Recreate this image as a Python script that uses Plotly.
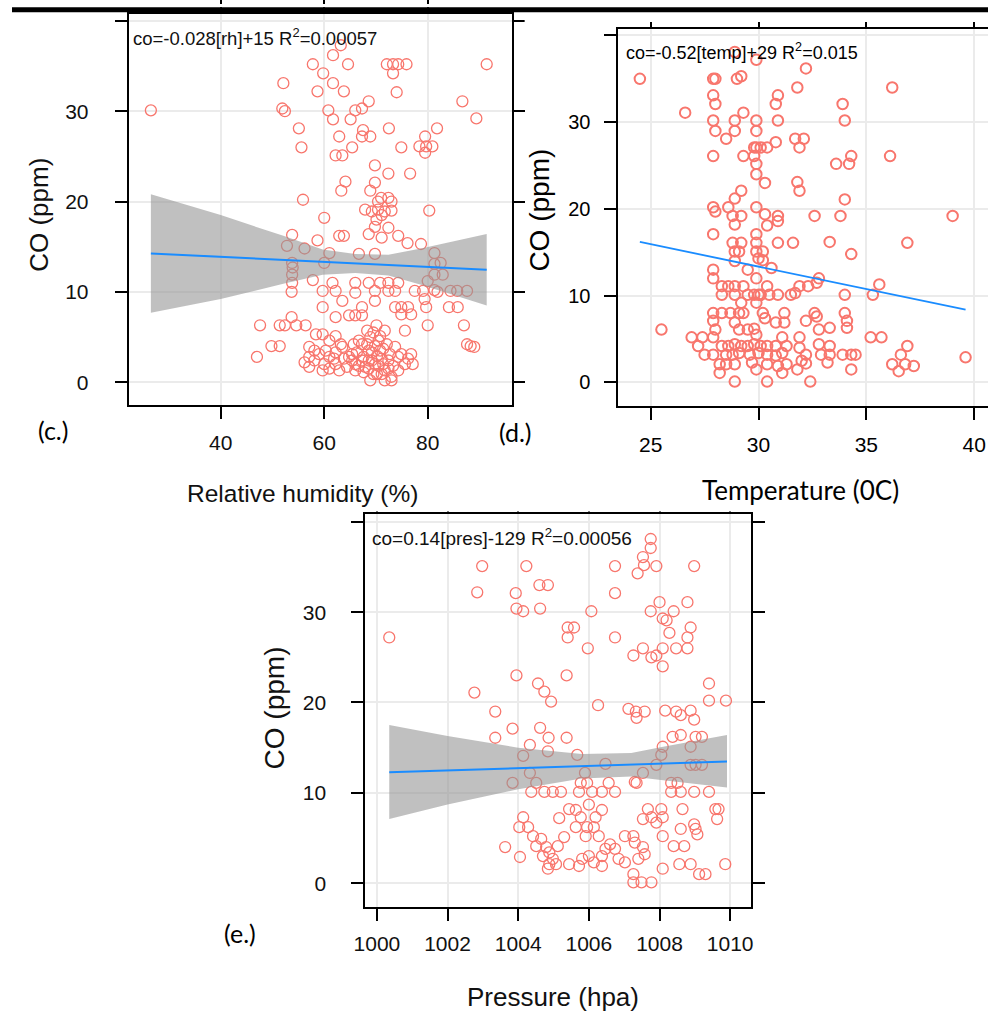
import plotly.graph_objects as go

# ---------------- panel (c): CO vs relative humidity ----------------
rh = [63.2, 61.7, 57.8, 64.6, 72.1, 73.3, 74.3, 75.9, 91.4, 73.3,
      59.8, 52.1, 61.7, 63.8, 58.7, 74.0, 86.7, 26.5, 51.9, 52.4,
      60.8, 68.6, 67.3, 66.0, 61.7, 65.1, 89.4, 55.1, 67.5, 67.3,
      68.9, 62.9, 72.5, 81.8, 79.5, 55.6, 65.4, 74.9, 78.4, 79.7,
      80.9, 79.5, 62.2, 63.5, 69.8, 72.4, 76.6, 64.1, 69.8, 63.3,
      68.9, 55.9, 71.0, 72.4, 70.4, 73.0, 67.9, 69.2, 70.4, 71.7,
      73.0, 71.1, 80.3, 60.0, 70.1, 72.4, 69.8, 62.9, 63.8, 53.8,
      52.8, 68.6, 71.1, 74.3, 76.1, 78.7, 58.7, 66.7, 69.8, 81.3,
      61.0, 56.2, 53.8, 53.9, 60.0, 82.5, 81.3, 53.8, 53.8, 57.8,
      61.6, 62.2, 66.0, 68.6, 70.8, 72.4, 74.3, 80.0, 81.3, 82.9,
      81.3, 77.5, 79.1, 59.7, 66.0, 69.8, 72.4, 73.7, 84.4, 85.7,
      87.6, 81.9, 53.7, 79.4, 59.7, 63.5, 67.3, 69.8, 73.7, 74.9,
      76.2, 74.9, 76.8, 84.1, 85.8, 79.7, 53.7, 52.4, 54.6, 56.4,
      51.4, 47.6, 62.2, 64.8, 66.0, 67.3, 70.1, 71.7, 75.6, 80.0,
      87.0, 58.4, 59.7, 62.2, 61.0, 49.8, 51.4, 47.0, 56.2, 57.1,
      58.1, 57.1, 87.6, 88.3, 89.0, 59.7, 60.0, 61.0, 62.2, 63.2,
      63.8, 64.4, 65.4, 66.0, 66.7, 67.3, 67.6, 67.9, 68.6, 68.9,
      69.2, 69.5, 69.8, 70.2, 70.5, 70.8, 71.1, 71.4, 71.7, 72.1,
      72.4, 72.7, 73.0, 73.3, 73.7, 74.3, 74.9, 75.6, 76.2, 76.8,
      77.1, 74.3, 66.0, 64.8, 63.5, 62.2, 61.0, 68.9, 71.7, 73.0,
      70.2, 68.6, 67.3, 66.3, 65.4, 62.9, 61.9, 60.3, 59.0, 58.1,
      57.1, 68.3, 69.5, 70.5, 68.3, 69.2, 70.8, 69.8, 71.4, 68.6,
      67.6, 71.1, 72.4, 66.7, 65.7]
co_rh = [37.3, 36.2, 35.2, 35.2, 35.2, 35.2, 35.2, 35.2, 35.2, 34.2,
         34.2, 33.1, 33.1, 32.2, 32.2, 32.1, 31.1, 30.1, 30.3, 30.0,
         30.1, 31.1, 30.3, 30.1, 29.1, 29.1, 29.2, 28.1, 27.9, 27.2,
         27.2, 27.2, 28.1, 28.1, 27.2, 26.0, 26.0, 26.0, 26.1, 26.1,
         26.1, 25.4, 25.1, 25.1, 24.0, 23.1, 23.1, 22.2, 22.1, 21.2,
         21.2, 20.2, 20.4, 20.4, 20.0, 20.0, 19.1, 18.9, 19.1, 18.9,
         19.0, 18.5, 19.0, 18.2, 18.0, 17.1, 17.2, 16.2, 16.2, 16.3,
         15.1, 16.4, 16.0, 16.2, 15.4, 15.3, 15.7, 14.2, 14.2, 14.3,
         14.3, 14.8, 13.2, 12.7, 13.2, 13.2, 13.1, 11.9, 11.0, 11.3,
         11.0, 10.1, 11.0, 11.0, 11.0, 11.0, 11.0, 11.2, 11.9, 11.9,
         10.2, 10.1, 10.1, 10.1, 9.9, 10.1, 10.1, 10.1, 10.1, 10.1,
         10.1, 10.0, 10.0, 9.2, 8.3, 9.0, 8.3, 9.0, 8.3, 8.3,
         8.3, 7.5, 7.5, 8.3, 8.3, 8.3, 7.2, 6.3, 6.3, 6.3,
         6.3, 6.3, 7.2, 7.4, 7.4, 7.4, 6.3, 5.7, 5.7, 6.3,
         6.3, 5.3, 5.3, 5.1, 4.6, 4.0, 4.0, 2.8, 2.2, 3.9,
         3.5, 2.8, 4.2, 4.0, 3.9, 1.3, 2.0, 2.8, 3.3, 4.2,
         2.6, 1.7, 3.1, 2.0, 4.6, 4.2, 2.8, 1.7, 3.5, 5.0,
         2.4, 0.9, 4.0, 2.9, 1.8, 5.1, 2.6, 3.7, 1.3, 4.2,
         2.4, 3.1, 0.6, 1.8, 3.9, 2.8, 3.1, 2.0, 2.6, 3.1,
         2.0, 1.3, 1.3, 2.8, 3.9, 2.0, 1.5, 0.2, 0.2, 0.2,
         0.9, 1.5, 2.4, 3.3, 2.4, 1.3, 2.6, 3.5, 3.1, 2.4,
         1.7, 5.7, 5.5, 4.6, 4.2, 3.3, 3.5, 2.0, 2.0, 2.4,
         1.1, 0.9, 1.5, 1.8, 4.2]
fit_rh = [26.5, 91.4]
fit_co_rh = [14.26, 12.44]
band_rh = [26.5, 40.0, 52.1, 59.7, 66.0, 72.4, 78.7, 91.4]
band_rh_upper = [20.8, 18.5, 16.2, 14.7, 14.2, 14.1, 14.8, 16.4]
band_rh_lower = [7.7, 9.2, 10.9, 11.9, 12.1, 11.8, 10.8, 8.5]

# ---------------- panel (d): CO vs temperature ----------------
temp = [24.5, 28.9, 29.9, 32.2, 27.9, 28.0, 29.0, 29.2, 31.8, 36.2,
        27.9, 28.0, 30.9, 30.8, 33.9, 26.6, 29.3, 27.9, 28.0, 28.9,
        28.9, 29.9, 29.9, 30.9, 34.0, 28.5, 30.8, 31.7, 32.1, 31.9,
        29.8, 30.1, 30.4, 29.9, 27.9, 29.3, 29.8, 34.3, 34.2, 33.6,
        36.1, 29.9, 29.9, 30.3, 31.8, 31.9, 29.2, 28.9, 34.0, 27.9,
        28.0, 28.6, 29.9, 28.8, 29.2, 28.9, 30.3, 30.9, 30.9, 30.4,
        32.6, 33.8, 39.0, 27.9, 29.9, 28.8, 29.2, 29.9, 29.9, 30.2,
        30.0, 30.2, 28.9, 29.1, 28.9, 30.9, 31.6, 33.3, 36.9, 34.3,
        29.5, 29.9, 30.6, 27.9, 27.9, 32.8, 35.6, 35.3, 28.3, 28.6,
        28.9, 29.3, 28.3, 28.9, 29.5, 29.8, 30.0, 30.1, 30.5, 30.9,
        30.4, 31.5, 31.7, 31.9, 32.3, 32.7, 34.0, 29.2, 29.9, 27.9,
        28.3, 28.7, 29.1, 29.3, 27.9, 28.0, 30.2, 30.3, 30.8, 31.2,
        31.2, 32.2, 32.6, 32.7, 34.0, 34.1, 34.1, 33.3, 32.8, 25.5,
        28.9, 29.1, 29.5, 29.8, 29.9, 26.9, 27.4, 27.9, 27.2, 27.5,
        27.9, 28.3, 28.6, 28.9, 29.2, 29.5, 29.8, 30.1, 30.4, 28.5,
        28.8, 29.1, 30.8, 31.3, 31.1, 31.9, 31.9, 32.2, 32.0, 32.2,
        32.8, 33.3, 33.3, 32.9, 33.2, 33.9, 34.3, 34.5, 35.2, 35.7,
        36.9, 36.6, 36.2, 36.8, 36.5, 37.2, 39.6, 29.6, 30.0, 30.4,
        30.8, 31.1, 28.2, 28.5, 28.9, 29.7, 29.9, 30.4, 30.9, 31.3,
        28.2, 28.9, 30.4, 31.1, 31.8, 32.4, 34.3]
co_temp = [35.0, 38.1, 37.2, 36.2, 35.0, 35.0, 35.0, 35.3, 34.0, 34.0,
           33.1, 32.1, 33.1, 32.1, 32.1, 31.1, 31.1, 30.2, 29.0, 30.2,
           29.0, 30.2, 29.0, 30.2, 30.2, 28.1, 27.7, 28.1, 28.1, 27.1,
           27.1, 27.1, 27.1, 27.1, 26.1, 26.1, 26.1, 26.1, 25.2, 25.2,
           26.1, 25.2, 24.0, 23.0, 23.1, 22.1, 22.1, 21.2, 21.1, 20.2,
           19.7, 20.2, 20.2, 19.2, 19.2, 18.2, 19.4, 19.2, 18.6, 18.1,
           19.2, 19.2, 19.2, 17.1, 17.1, 16.1, 16.1, 16.1, 15.1, 15.1,
           14.3, 14.1, 15.1, 15.1, 14.0, 16.1, 16.1, 16.2, 16.1, 14.8,
           13.0, 12.0, 13.2, 13.0, 12.0, 12.0, 11.3, 10.1, 11.1, 11.1,
           11.1, 11.1, 10.1, 10.1, 10.1, 10.1, 10.1, 10.1, 10.1, 10.1,
           11.1, 10.1, 10.3, 11.1, 11.1, 11.5, 10.1, 9.2, 9.2, 8.0,
           8.0, 8.0, 8.0, 8.0, 7.1, 6.1, 8.0, 7.4, 6.9, 8.0,
           6.9, 7.1, 8.0, 7.6, 8.0, 7.1, 6.3, 6.3, 6.1, 6.1,
           6.9, 6.1, 6.1, 6.2, 5.5, 5.2, 5.2, 5.2, 4.2, 3.2,
           3.2, 4.2, 4.2, 4.4, 4.2, 4.2, 4.4, 4.2, 4.2, 3.2,
           3.2, 3.4, 4.2, 4.2, 5.2, 5.2, 4.0, 3.2, 2.5, 2.2,
           4.4, 4.2, 3.2, 3.2, 2.3, 3.2, 3.2, 3.2, 5.2, 5.2,
           4.2, 3.2, 2.1, 2.1, 1.3, 1.9, 2.9, 3.2, 3.4, 3.2,
           3.1, 3.4, 2.1, 2.1, 2.1, 2.3, 1.5, 2.1, 1.9, 2.1,
           1.1, 0.1, 0.1, 1.1, 1.5, 0.1, 1.5]
fit_temp = [24.5, 39.6]
fit_co_temp = [16.2, 8.4]

# ---------------- panel (e): CO vs pressure ----------------
pres = [1000.35, 1002.98, 1004.23, 1002.84, 1003.93, 1004.6, 1004.84, 1003.95, 1004.14, 1004.62,
        1006.07, 1006.74, 1006.74, 1005.4, 1005.58, 1005.4, 1006.74, 1005.97, 1007.75, 1007.75,
        1007.53, 1007.56, 1007.38, 1007.91, 1008.98, 1008.0, 1007.75, 1008.4, 1008.79, 1008.09,
        1008.2, 1008.28, 1008.88, 1008.79, 1008.79, 1008.47, 1007.26, 1007.53, 1007.77, 1008.09,
        1008.09, 1007.91, 1003.95, 1005.37, 1004.56, 1004.74, 1004.93, 1002.76, 1009.4, 1009.4,
        1009.88, 1006.26, 1003.35, 1007.12, 1007.33, 1007.58, 1007.35, 1008.16, 1008.47, 1008.6,
        1008.88, 1008.98, 1003.84, 1003.35, 1004.62, 1004.86, 1005.37, 1004.33, 1004.14, 1004.84,
        1005.67, 1008.37, 1008.6, 1009.02, 1009.2, 1008.88, 1008.09, 1008.05, 1008.88, 1009.02,
        1009.2, 1006.47, 1007.91, 1007.53, 1007.3, 1007.35, 1005.89, 1004.33, 1003.84, 1004.51,
        1005.77, 1005.95, 1006.56, 1004.37, 1004.74, 1004.98, 1005.21, 1005.72, 1006.09, 1006.37,
        1006.74, 1008.33, 1008.51, 1008.33, 1008.6, 1008.98, 1009.4, 1005.44, 1005.63, 1006.0,
        1006.37, 1006.19, 1005.16, 1005.77, 1006.14, 1005.95, 1007.67, 1008.05, 1008.09, 1007.77,
        1007.53, 1007.91, 1008.65, 1009.58, 1009.67, 1009.63, 1004.14, 1004.03, 1004.28, 1005.3,
        1005.63, 1005.91, 1006.28, 1004.42, 1004.65, 1004.79, 1004.88, 1004.98, 1005.07, 1004.51,
        1004.7, 1004.88, 1005.12, 1004.84, 1003.63, 1004.05, 1005.44, 1005.72, 1005.81, 1006.0,
        1006.14, 1006.37, 1006.47, 1006.6, 1006.74, 1006.84, 1007.02, 1006.37, 1007.02, 1007.26,
        1007.3, 1007.53, 1007.58, 1007.4, 1007.26, 1007.26, 1007.49, 1007.77, 1008.09, 1008.09,
        1008.4, 1008.7, 1008.6, 1009.02, 1009.07, 1008.56, 1008.88, 1009.12, 1009.3, 1009.86,
        1008.98]
co_pres = [27.2, 35.1, 35.1, 32.2, 32.1, 33.0, 33.0, 30.4, 30.1, 30.4,
           30.1, 35.1, 32.1, 28.3, 28.3, 27.2, 27.2, 26.0, 38.1, 37.1,
           36.1, 35.2, 34.3, 35.1, 35.1, 31.1, 30.1, 30.1, 31.1, 29.3,
           29.1, 27.7, 28.3, 27.2, 26.0, 26.0, 25.2, 26.0, 25.0, 26.0,
           24.0, 25.2, 23.0, 23.0, 22.1, 21.2, 20.1, 21.1, 22.1, 20.2,
           20.2, 19.7, 19.0, 19.3, 19.0, 19.0, 18.3, 19.1, 19.0, 18.6,
           19.1, 18.1, 17.1, 16.1, 17.2, 16.1, 16.1, 15.3, 14.1, 14.6,
           14.2, 16.2, 16.4, 16.2, 16.2, 15.1, 15.1, 14.2, 13.1, 13.1,
           13.1, 13.2, 13.1, 12.2, 11.2, 11.1, 12.2, 12.2, 11.1, 11.1,
           11.1, 11.1, 11.1, 10.1, 10.1, 10.1, 10.1, 10.1, 10.1, 10.1,
           10.1, 11.1, 11.1, 10.1, 10.1, 10.1, 10.1, 8.2, 8.1, 8.7,
           8.1, 7.3, 7.2, 7.3, 6.2, 6.2, 8.2, 8.2, 7.3, 7.3,
           7.1, 6.7, 8.2, 8.2, 8.2, 7.1, 7.3, 6.2, 6.2, 5.1,
           6.2, 5.2, 5.2, 5.2, 4.9, 4.0, 3.4, 2.7, 2.1, 4.1,
           3.0, 2.1, 4.1, 1.6, 4.0, 2.9, 2.1, 1.9, 2.7, 3.0,
           2.3, 1.9, 3.8, 4.3, 3.8, 2.7, 2.3, 3.0, 5.2, 5.2,
           4.5, 4.0, 3.2, 2.7, 1.0, 0.1, 0.1, 0.1, 5.2, 1.6,
           4.1, 4.1, 6.0, 6.0, 5.4, 2.1, 2.1, 1.0, 1.0, 2.1,
           6.5]
fit_pres = [1000.35, 1009.91]
fit_co_pres = [12.28, 13.46]
band_pres = [1000.35, 1002.0, 1004.0, 1005.8, 1007.2, 1008.1, 1009.91]
band_pres_upper = [17.5, 16.3, 15.0, 14.3, 14.4, 15.1, 16.4]
band_pres_lower = [7.1, 8.7, 10.4, 11.6, 11.8, 11.4, 10.6]

y_ticks = [0, 10, 20, 30]
y_ticks_unlabelled = [40]

# ---------------- styling ----------------
W, H = 990, 1013
PT = "#F8766D"
BLUE = "#1a8cff"
BAND = "rgba(150,150,150,0.6)"
ARIAL = "Liberation Sans, Arial, sans-serif"
CALI = "Lato, Open Sans, sans-serif"


def fx(px):
    return px / W


def fy(py):
    return 1 - py / H


fig = go.Figure()

# (c)
fig.add_trace(go.Scatter(x=rh, y=co_rh, mode="markers", xaxis="x", yaxis="y",
                         marker=dict(symbol="circle-open", size=11, color=PT, line=dict(width=1.3))))
fig.add_trace(go.Scatter(x=band_rh + band_rh[::-1], y=band_rh_upper + band_rh_lower[::-1],
                         fill="toself", fillcolor=BAND, mode="lines", line=dict(width=0),
                         xaxis="x", yaxis="y", hoverinfo="skip"))
fig.add_trace(go.Scatter(x=fit_rh, y=fit_co_rh, mode="lines", line=dict(color=BLUE, width=2),
                         xaxis="x", yaxis="y"))
# (d)
fig.add_trace(go.Scatter(x=temp, y=co_temp, mode="markers", xaxis="x2", yaxis="y2",
                         marker=dict(symbol="circle-open", size=10.5, color=PT, line=dict(width=2))))
fig.add_trace(go.Scatter(x=fit_temp, y=fit_co_temp, mode="lines", line=dict(color=BLUE, width=1.8),
                         xaxis="x2", yaxis="y2"))
# (e)
fig.add_trace(go.Scatter(x=pres, y=co_pres, mode="markers", xaxis="x3", yaxis="y3",
                         marker=dict(symbol="circle-open", size=11, color=PT, line=dict(width=1.3))))
fig.add_trace(go.Scatter(x=band_pres + band_pres[::-1], y=band_pres_upper + band_pres_lower[::-1],
                         fill="toself", fillcolor=BAND, mode="lines", line=dict(width=0),
                         xaxis="x3", yaxis="y3", hoverinfo="skip"))
fig.add_trace(go.Scatter(x=fit_pres, y=fit_co_pres, mode="lines", line=dict(color=BLUE, width=2),
                         xaxis="x3", yaxis="y3"))


def ax(**kw):
    base = dict(showline=True, linecolor="black", linewidth=1.8, ticks="outside", ticklen=12,
                tickwidth=1.8, tickcolor="black", showgrid=True, gridcolor="#EBEBEB", gridwidth=1.5,
                zeroline=False, fixedrange=True)
    base.update(kw)
    return base


def minor40():
    return dict(tickvals=y_ticks_unlabelled, ticks="outside", ticklen=12, tickwidth=1.8,
                tickcolor="black", showgrid=True, gridcolor="#EBEBEB", gridwidth=1.5)


fig.update_layout(
    width=W, height=H, margin=dict(l=0, r=0, t=0, b=0),
    paper_bgcolor="white", plot_bgcolor="white", showlegend=False,
    xaxis=ax(domain=[fx(118.3), fx(506.7)], range=[22.2, 96.2], anchor="y", mirror="ticks",
             tickvals=[40, 60, 80], tickfont=dict(family=ARIAL, size=21, color="#111"),
             ticklabelstandoff=5),
    yaxis=ax(domain=[fy(403), fy(9.7)], range=[-2.57, 40.8], anchor="x", mirror="ticks",
             tickvals=y_ticks, minor=minor40(),
             tickfont=dict(family=ARIAL, size=21, color="#111"), ticklabelstandoff=22),
    xaxis2=ax(domain=[fx(615), 1.0], range=[23.5, 40.64], anchor="y2", mirror="ticks",
              tickvals=[25, 30, 35, 40], tickfont=dict(family=ARIAL, size=21, color="black"),
              ticklabelstandoff=7),
    yaxis2=ax(domain=[fy(403.3), fy(25)], range=[-2.68, 40.76], anchor="x2", mirror=False,
              tickvals=y_ticks, minor=minor40(),
              tickfont=dict(family=ARIAL, size=20, color="black"), ticklabelstandoff=10),
    xaxis3=ax(domain=[fx(358.3), fx(750)], range=[999.67, 1010.6], anchor="y3", mirror="ticks",
              tickvals=[1000, 1002, 1004, 1006, 1008, 1010],
              tickfont=dict(family=ARIAL, size=21, color="#111"), ticklabelstandoff=5),
    yaxis3=ax(domain=[fy(906.7), fy(511.7)], range=[-2.65, 40.9], anchor="x3", mirror="ticks",
              tickvals=y_ticks, minor=minor40(),
              tickfont=dict(family=ARIAL, size=21, color="#111"), ticklabelstandoff=21),
)

shapes = [
    dict(type="rect", xref="paper", yref="paper", x0=0, x1=1, y0=fy(3.3), y1=1,
         fillcolor="white", line=dict(width=0), layer="above"),
    dict(type="rect", xref="paper", yref="paper", x0=fx(520), x1=1, y0=fy(18), y1=fy(8.3),
         fillcolor="white", line=dict(width=0), layer="above"),
    # panel (e) top ticks are clipped in the reference (they sit under the x-title above)
    dict(type="rect", xref="paper", yref="paper", x0=fx(352), x1=fx(762), y0=fy(509.5), y1=fy(495),
         fillcolor="white", line=dict(width=0), layer="above"),
    dict(type="rect", xref="paper", yref="paper", x0=0, x1=1, y0=fy(8.3), y1=fy(3.3),
         fillcolor="black", line=dict(width=0), layer="above"),
]
fig.update_layout(shapes=shapes)

ann = []


def text(s, px, py, size, family=ARIAL, xanchor="center", angle=0, color="black"):
    ann.append(dict(text=s, x=fx(px), y=fy(py), xref="paper", yref="paper", showarrow=False,
                    xanchor=xanchor, yanchor="middle", textangle=angle,
                    font=dict(family=family, size=size, color=color)))


text("co=-0.028[rh]+15 R<sup>2</sup>=0.00057", 121, 33, 18.5, xanchor="left", color="#111")
text("co=-0.52[temp]+29 R<sup>2</sup>=0.015", 621, 48, 18, xanchor="left")
text("co=0.14[pres]-129 R<sup>2</sup>=0.00056", 363, 535, 19, xanchor="left", color="#111")

text("Relative humidity (%)", 295, 491, 24.5, color="#111")
text("Temperature (0C)", 800, 488, 26, family=CALI)
text("Pressure (hpa)", 549, 997, 26, color="#111")

text("CO (ppm)", 28, 212, 26, angle=-90, color="#111")
text("CO (ppm)", 535, 207, 28, angle=-90)
text("CO (ppm)", 266, 707, 28, angle=-90, color="#111")

text("(c.)", 42, 428, 25, family=CALI)
text("(d.)", 511, 430, 25, family=CALI)
text("(e.)", 231, 933, 25, family=CALI)

fig.update_layout(annotations=ann)

fig.write_html("out.html")
